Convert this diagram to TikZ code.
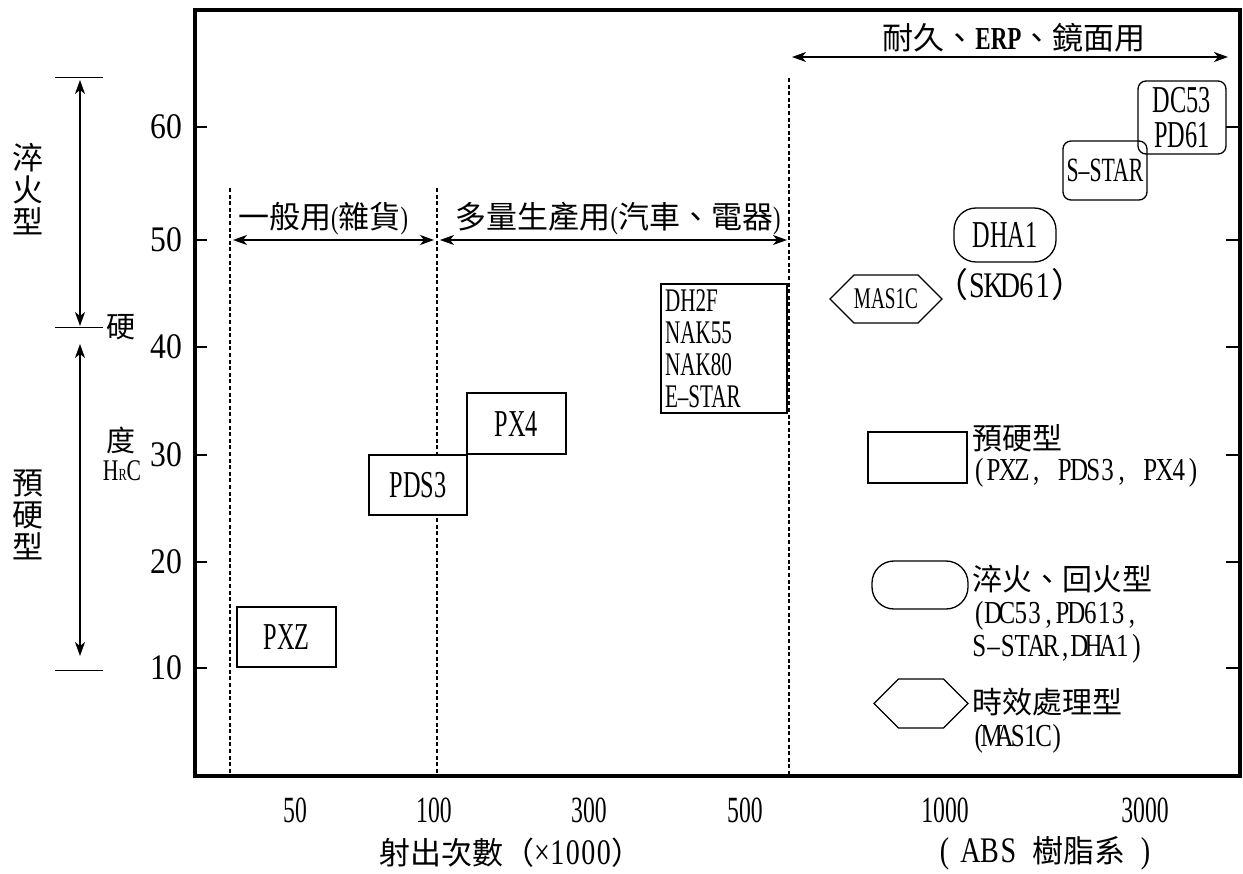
\documentclass[tikz,border=0pt]{standalone}
\usepackage{fontspec}
\setmainfont{Liberation Serif}[FakeStretch=0.72]
\newfontfamily\wideser{Liberation Serif}[FakeStretch=0.88]
\newfontfamily\narrowser{Liberation Serif}[FakeStretch=0.64]
\newfontfamily\monoser{Liberation Serif}[FakeStretch=0.78]
\newfontfamily\cjk{Noto Sans CJK TC}
\usetikzlibrary{arrows.meta,shapes.misc,shapes.symbols}
\newcommand{\zh}[1]{{\cjk #1}}
\newcommand{\fs}[2]{\fontsize{#1}{#2}\selectfont}
\ExplSyntaxOn
\NewDocumentCommand\mono{mm}{\str_map_inline:nn {#2} {\makebox[#1]{##1}}}
\ExplSyntaxOff
% Latin run: size, pitch, text
\newcommand{\lat}[3]{{\monoser\fontsize{#1}{#1}\selectfont\mono{#2}{#3}}}
\begin{document}
\begin{tikzpicture}[x=1pt,y=-1pt,
  frame/.style={line width=3.5pt},
  tickline/.style={line width=2.5pt},
  guide/.style={line width=2.2pt, dash pattern=on 4pt off 2.6pt},
  span/.style={line width=1.3pt, {Stealth[length=14pt,width=10pt,inset=4pt]}-{Stealth[length=14pt,width=10pt,inset=4pt]}},
  hbar/.style={line width=1pt},
  box/.style={draw, line width=1.3pt, inner sep=0pt},
  wbox/.style={box, fill=white},
  rbox/.style={box, rounded corners=8pt},
  pill/.style={box, rounded corners=22pt},
  hexa/.style={draw, line width=1.3pt, inner sep=0pt, shape=signal, signal to=west and east},
  ynum/.style={font=\wideser\fs{36}{36}},
  xnum/.style={font=\narrowser\fs{37}{37}},
  lbl/.style={font=\fs{31}{32}, inner sep=0pt},
  boxtext/.style={font=\narrowser\fs{38}{38}}
]
\useasboundingbox (0,0) rectangle (1243,874);
% frame
\draw[frame] (195,10) rectangle (1240,776);
% ticks
\foreach \y in {127,240,347,455,562,668}{
  \draw[tickline] (195,\y) -- (207,\y);
  \draw[tickline] (1240,\y) -- (1226,\y);
}
% y tick labels
\foreach \y/\v in {127/60,240/50,347/40,455/30,562/20,668/10}{
  \node[ynum] (yl\v) at (166,\y) {\v};
}
% x tick labels
\foreach \x/\v/\n in {295/50/a,434/100/b,589/300/c,745/500/d,945/1000/e,1145/3000/f}{
  \node[xnum] (xl\n) at (\x,810) {\v};
}
\node[font=\fs{31}{31}] (xtitle) at (511,853) {\zh{射出次數}\zh{（}\lat{36}{15.5pt}{×1000}\zh{）}};
\node[font=\fs{31}{31}] (xabs) at (1045,853) {\lat{36}{17pt}{(}\hspace{8pt}\lat{36}{19pt}{ABS}\hspace{14pt}\zh{樹脂系}\hspace{12pt}\lat{36}{17pt}{)}};
% left annotation
\coordinate (b1l) at (55,78);  \coordinate (b1r) at (103,78);
\coordinate (b2l) at (55,328); \coordinate (b2r) at (103,328);
\coordinate (b3l) at (55,670); \coordinate (b3r) at (103,670);
\draw[hbar] (b1l) -- (b1r);
\draw[hbar] (b2l) -- (b2r);
\draw[hbar] (b3l) -- (b3r);
\coordinate (a1) at (80,80);  \coordinate (a2) at (80,326);
\coordinate (a3) at (80,344); \coordinate (a4) at (80,656);
\draw[span] (a1) -- (a2);
\draw[span] (a3) -- (a4);
\node[font=\cjk\fs{31}{32}, align=center, inner sep=0pt] (qtype) at (28,189) {淬\\火\\型};
\node[font=\cjk\fs{31}{32}, align=center, inner sep=0pt] (ptype) at (28,515) {預\\硬\\型};
\node[font=\cjk\fs{29}{29}, inner sep=0pt] (hard1) at (121,327) {硬};
\node[font=\cjk\fs{29}{29}, inner sep=0pt] (hard2) at (121,440) {度};
\node[font=\fs{30}{30}, inner sep=0pt] (hrc) at (122,471) {H{\fs{17}{17}R}C};
% dashed guides
\coordinate (d1t) at (230,188); \coordinate (d1b) at (230,775);
\coordinate (d2t) at (437,188); \coordinate (d2b) at (437,775);
\coordinate (d3t) at (789,78);  \coordinate (d3b) at (789,775);
\draw[guide] (d1t) -- (d1b);
\draw[guide] (d2t) -- (d2b);
\draw[guide] (d3t) -- (d3b);
% span arrows
\coordinate (g1) at (233,240); \coordinate (g2) at (434,240);
\coordinate (m1) at (440,240); \coordinate (m2) at (787,240);
\coordinate (t1) at (792,57);  \coordinate (t2) at (1228,57);
\draw[span] (g1) -- (g2);
\draw[span] (m1) -- (m2);
\draw[span] (t1) -- (t2);
\node[lbl] (lgen) at (323,219) {\zh{一般用}(\zh{雜貨})};
\node[lbl] (lmass) at (618,219) {\zh{多量生產用}(\zh{汽車、電器})};
\node[lbl] (ltop) at (1014,38) {\zh{耐久、}{\fs{32}{32}\bfseries ERP}\zh{、鏡面用}};
% prehardened boxes
\node[wbox, boxtext, minimum width=99, minimum height=60] (pxz) at (286.5,637) {PXZ};
\node[wbox, boxtext, minimum width=98, minimum height=60] (pds3) at (418,485) {PDS3};
\node[wbox, boxtext, minimum width=99, minimum height=61] (px4) at (516.5,423.5) {PX4};
\node[wbox, font=\narrowser\fs{33}{32}, minimum width=126, minimum height=129, text width=118, align=left] (dh2f) at (724,348.5) {DH2F\\NAK55\\NAK80\\E–STAR};
% age hardening
\node[hexa, font=\narrowser\fs{30}{30}, minimum width=112, minimum height=48] (mas) at (886,299) {MAS1C};
% quench types
\node[pill, boxtext, minimum width=102, minimum height=54] (dha1) at (1005,235) {DHA1};
\node[font=\fs{34}{34}, inner sep=0pt] (skd) at (1010,285) {\zh{（}\lat{36}{16.5pt}{SKD61}\zh{）}};
\node[rbox, font=\narrowser\fs{34}{34}, minimum width=84, minimum height=59] (sstar) at (1105,170.5) {S–STAR};
\node[rbox, font=\narrowser\fs{38}{35}, minimum width=88, minimum height=73, align=center] (dc53) at (1182,117.5) {DC53\\PD61};
% legend
\node[box, minimum width=99, minimum height=51] (legrect) at (917.5,457.5) {};
\node[font=\fs{30}{31}, align=left, anchor=north west, inner sep=0pt] (legrectt) at (972,424) {\zh{預硬型}\\\lat{32}{14.25pt}{(PXZ, PDS3, PX4)}};
\node[pill, minimum width=96, minimum height=48] (legpill) at (920,585) {};
\node[font=\fs{30}{33}, align=left, anchor=north west, inner sep=0pt] (legpillt) at (972,565) {\zh{淬火、回火型}\\\lat{32}{13.9pt}{(DC53,PD613,}\\\lat{32}{14.3pt}{S–STAR,DHA1)}};
\node[hexa, minimum width=94, minimum height=49] (leghex) at (921,703.5) {};
\node[font=\fs{30}{33}, align=left, anchor=north west, inner sep=0pt] (leghext) at (972,688) {\zh{時效處理型}\\\lat{32}{13pt}{(MAS1C)}};
\end{tikzpicture}
\end{document}
